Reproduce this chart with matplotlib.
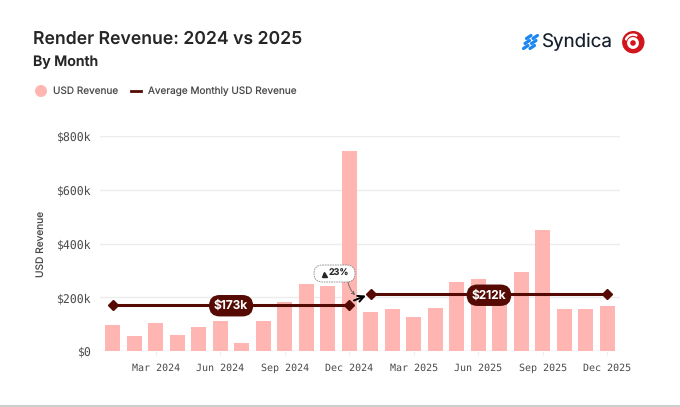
#Render revenue by month, 2024 vs 2025
import matplotlib
matplotlib.use('Agg')
import matplotlib.pyplot as plt
from matplotlib.patches import FancyBboxPatch, Circle, Wedge, FancyArrowPatch

months = ['Jan 2024','Feb 2024','Mar 2024','Apr 2024','May 2024','Jun 2024','Jul 2024','Aug 2024',
          'Sep 2024','Oct 2024','Nov 2024','Dec 2024','Jan 2025','Feb 2025','Mar 2025','Apr 2025',
          'May 2025','Jun 2025','Jul 2025','Aug 2025','Sep 2025','Oct 2025','Nov 2025','Dec 2025']
revenue = [97,56,105,60,90,110,31,110,183,249,243,743,145,156,126,161,255,267,205,293,452,156,157,167]
avg_2024 = 173
avg_2025 = 212
yticks = [0,200,400,600,800]
ylabels = ['$0','$200k','$400k','$600k','$800k']
xticks = [2,5,8,11,14,17,20,23]

W, H = 680, 407
PINK = '#ffb6b3'
DARK = '#560a04'
INK = '#262626'
GREY = '#4a4a4a'
MONO = 'DejaVu Sans Mono'

plt.rcParams['font.family'] = ['Inter', 'DejaVu Sans']
plt.rcParams['text.hinting'] = 'no_hinting'
fig = plt.figure(figsize=(W/100, H/100), dpi=100)
ax = fig.add_axes([100/W, 1-351/H, 520/W, 215/H])

ax.bar(range(24), revenue, width=0.7, color=PINK, zorder=2)
ax.set_xlim(-0.6, 23.6)
ax.set_ylim(0, 800)
ax.set_yticks(yticks)
ax.set_yticklabels(ylabels, family=MONO, fontsize=8.3, color=GREY)
ax.set_xticks(xticks)
ax.set_xticklabels([months[i] for i in xticks], family=MONO, fontsize=7.2, color=GREY)
ax.tick_params(axis='y', length=0, pad=6)
ax.tick_params(axis='x', length=3, color='#eeeeee', pad=6)
ax.grid(axis='y', color='#ececec', lw=1, zorder=0)
ax.set_axisbelow(True)
for s in ax.spines.values():
    s.set_visible(False)
ax.axhline(0, color='#ececec', lw=1, zorder=1)
ax.set_ylabel('USD Revenue', fontsize=7.3, color=GREY)
ax.yaxis.set_label_coords(-54/520, 0.5)

# average lines, one for each year
ax.plot([0,11], [avg_2024,avg_2024], color=DARK, lw=2.2, marker='D', ms=5.5, zorder=4)
ax.plot([12,23], [avg_2025,avg_2025], color=DARK, lw=2.2, marker='D', ms=5.5, zorder=4)
pill = dict(boxstyle='round,pad=0.42,rounding_size=0.9', fc=DARK, ec='none')
ax.text(5.5, avg_2024, '$173k', color='white', fontsize=8.6, fontweight='semibold',
        ha='center', va='center_baseline', bbox=pill, zorder=5)
ax.text(17.5, avg_2025, '$212k', color='white', fontsize=8.6, fontweight='semibold',
        ha='center', va='center_baseline', bbox=pill, zorder=5)

# change arrow between the two averages
ax.add_patch(FancyArrowPatch((11.22,avg_2024+15), (11.78,avg_2025-6), arrowstyle='->', mutation_scale=11,
                             color='black', lw=1.4, zorder=6, shrinkA=0, shrinkB=0))

# overlay in pixels for title, legend, callout and logos
overlay = fig.add_axes([0,0,1,1])
overlay.set_xlim(0,W)
overlay.set_ylim(H,0)
overlay.axis('off')
overlay.patch.set_alpha(0)

# callout
overlay.add_patch(FancyArrowPatch((348,282), (355,295), arrowstyle='->', mutation_scale=5,
                                  color='#555555', lw=0.6, ls=(0,(2,1)), shrinkA=0, shrinkB=0,
                                  connectionstyle='arc3,rad=0.15'))
overlay.add_patch(FancyBboxPatch((314,265), 41, 17, boxstyle='round,pad=0,rounding_size=8.5', fc='white',
                                 ec='#888888', lw=0.6, ls=(0,(2,1))))
overlay.plot([324],[273.5], marker='^', ms=3.6, color=INK, ls='none')
overlay.text(329,273,'23%', fontsize=6.5, fontweight='semibold', color=INK, va='center')

# title block
overlay.text(33,39.5,'Render Revenue: 2024 vs 2025', fontsize=12.7, fontweight='semibold', color=INK, va='center')
overlay.text(33,62.5,'By Month', fontsize=10.2, fontweight='semibold', color=INK, va='center')

# legend
overlay.add_patch(Circle((41,91), 5.3, color=PINK))
overlay.text(53,91,'USD Revenue', fontsize=7.2, color=GREY, va='center')
overlay.plot([131,141],[91,91], color=DARK, lw=2)
overlay.text(148,91,'Average Monthly USD Revenue', fontsize=7.2, color=GREY, va='center')

# logos
for dy, dx in ((-5,1.5),(0,0),(5,-1.5)):
    overlay.plot([525+dx,529.5+dx],[42+dy+1.5,42+dy-1.5], color='#1c86f2', lw=2.3, solid_capstyle='round')
    overlay.plot([531.5+dx,536+dx],[42+dy+1.5,42+dy-1.5], color='#1c86f2', lw=2.3, solid_capstyle='round')
overlay.text(541,42,'Syndica', fontsize=13.5, color='#16202c', va='center')
overlay.add_patch(Circle((633.3,42.2), 10.5, color='#d2141c'))
overlay.add_patch(Wedge((633,43), 5.2, 0, 360, width=1.7, color='white'))
overlay.add_patch(Wedge((633,42.2), 8, 200, 300, width=0.9, color='white'))

# bottom edge of the card
overlay.plot([0,W],[406,406], color='#c4c4c4', lw=1.2)

fig.savefig('out.png', dpi=100, facecolor='white')
